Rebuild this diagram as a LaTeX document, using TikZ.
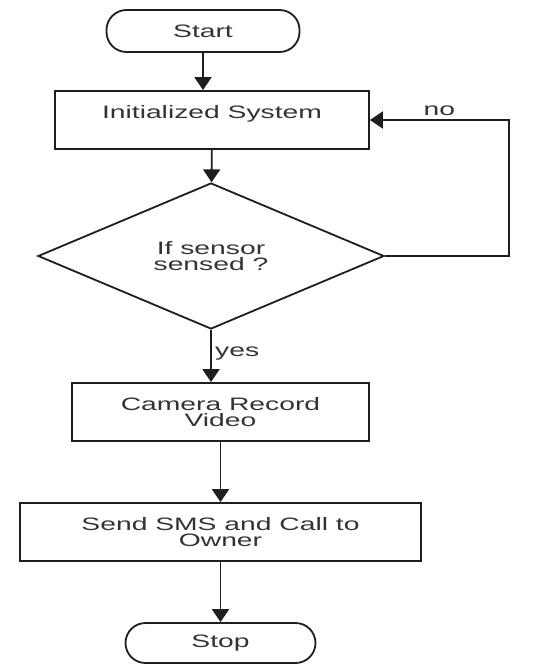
\documentclass[tikz,border=0pt]{standalone}
\usepackage{fontspec}
\setmainfont{Liberation Sans}[FakeStretch=1.57]
\usepackage{xcolor}
\definecolor{ink}{HTML}{1E1E1E}
\definecolor{txt}{HTML}{333333}
\usepackage{tikz}
\usetikzlibrary{shapes,arrows.meta}
\usetikzlibrary{positioning}
\tikzstyle{terminal} = [rectangle, draw, rounded corners=20pt,
    minimum width=193pt, minimum height=42pt]
\tikzstyle{block} = [rectangle, draw, align=center, minimum height=58pt]
\tikzstyle{decision} = [diamond, draw, align=center, aspect=2.37,
    minimum width=346pt, minimum height=146pt, inner sep=0pt]
\tikzstyle{line} = [draw, -{Triangle[width=17pt,length=13pt]}]

\begin{document}
\begin{tikzpicture}[x=1pt,y=1pt,color=ink,line width=1.8pt,every node/.style={font=\fontsize{18}{16.8}\selectfont,text=txt}]
    \useasboundingbox (0,0) rectangle (532,-671);
    % Place nodes
    \node [terminal] (start) at (203,-31) {Start};
    \node [block, below of=start, node distance=89pt, xshift=9pt, minimum width=314pt] (init) {Initialized System\\ \mbox{}};
    \node [decision, below of=init, node distance=136pt, xshift=-1pt] (sensed) {If sensor\\sensed ?};
    \node [block, below of=sensed, node distance=156pt, xshift=9.5pt, minimum width=297pt] (camera) {Camera Record\\Video};
    \node [block, below of=camera, node distance=120pt, minimum width=401pt] (sms) {Send SMS and Call to\\Owner};
    \node [terminal, below of=sms, node distance=111pt, minimum width=190pt, minimum height=40pt] (stop) {Stop};

    % Draw edges
    \path [line] (start.south) -- (start.south |- init.north);
    \path [line] (init) -- (sensed);
    \path [line] (sensed.south) -- node[right, pos=.45] {yes} (sensed.south |- camera.north);
    \path [line] (camera) -- (sms);
    \path [line] (sms) -- (stop);

    \path [line] (sensed.east) --++ (124,0) |- node[pos=.75, above] {no} (init.east);
\end{tikzpicture}
\end{document}
